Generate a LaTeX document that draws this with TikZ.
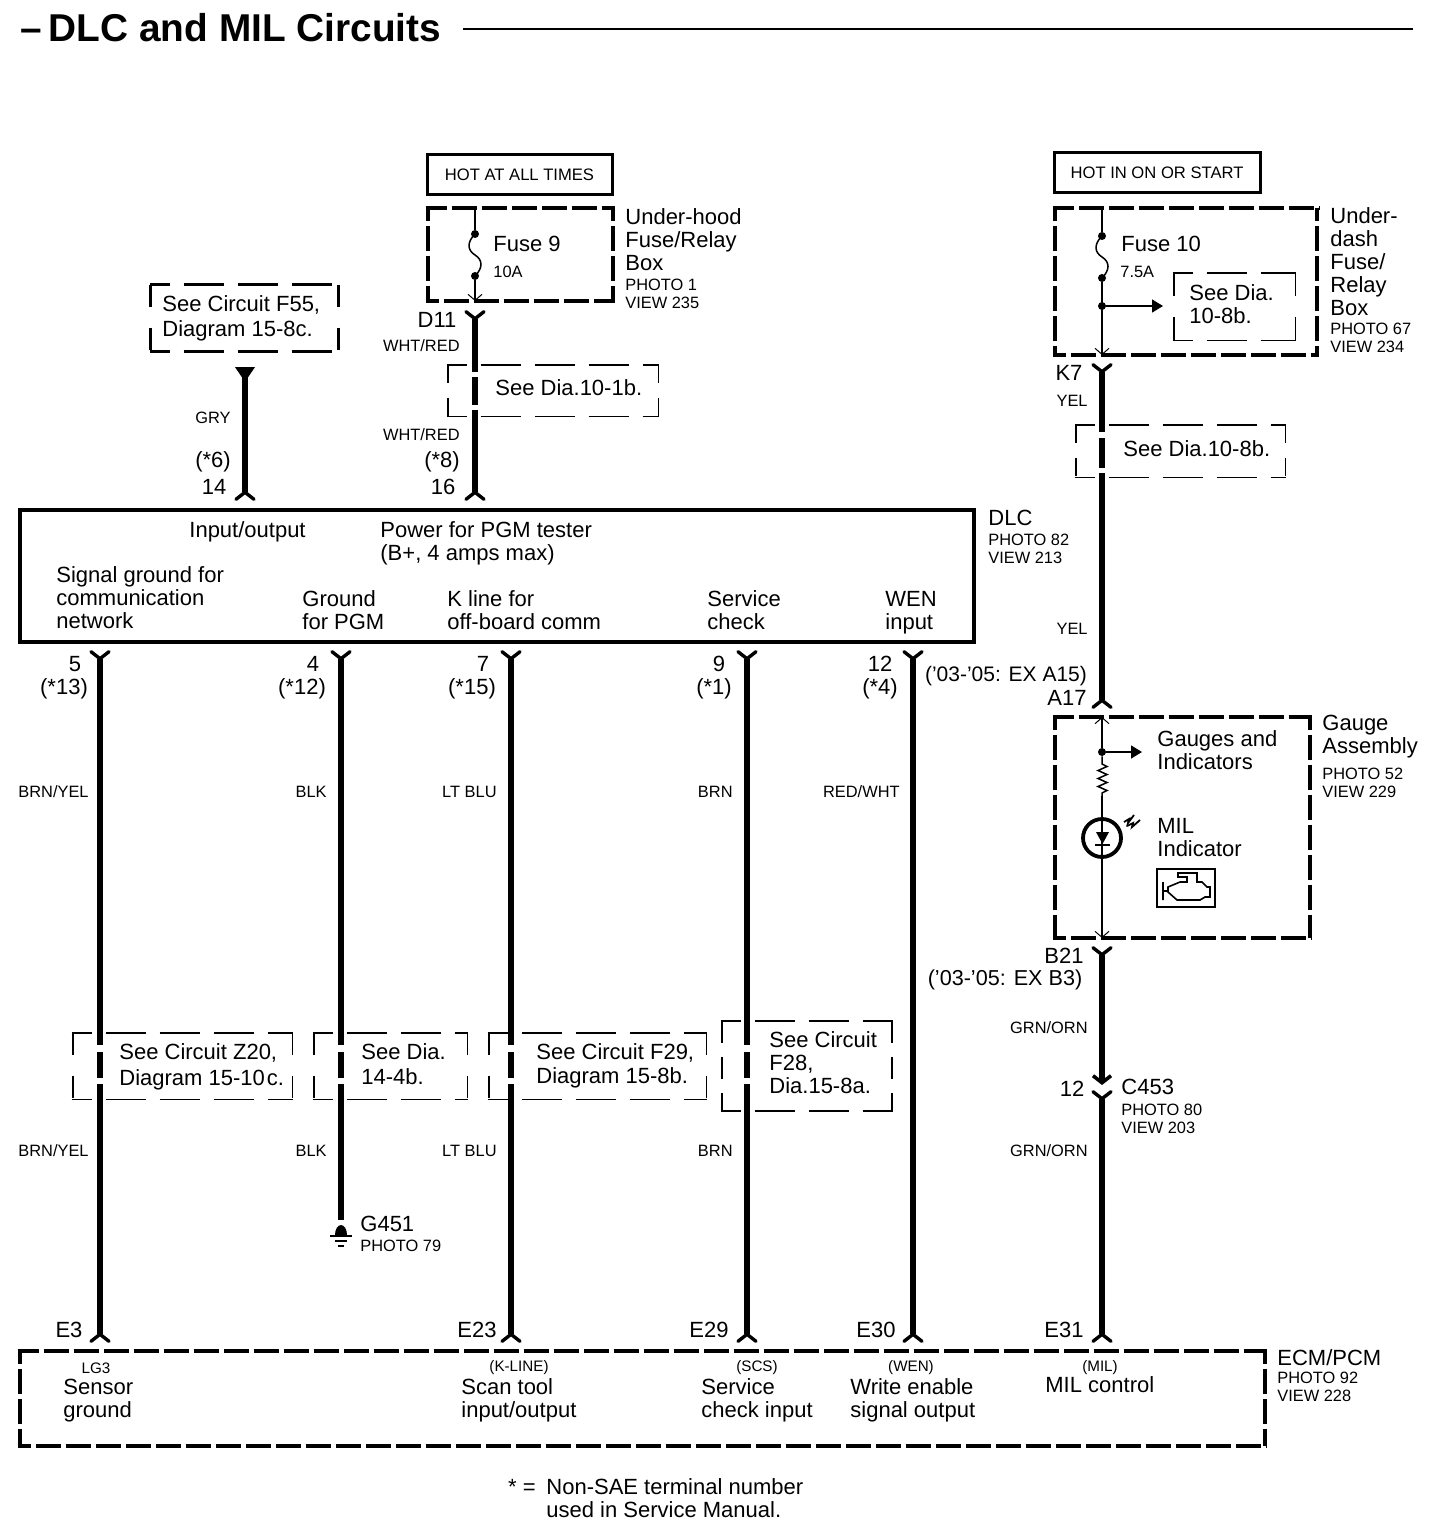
\documentclass[tikz,border=0pt]{standalone}
\usepackage{fontspec}
\setmainfont{Liberation Sans}
\usepackage{tikz}
\usetikzlibrary{arrows.meta}
\tikzset{fork/.tip={Straight Barb[reversed,round,length=3.5pt,width=9pt,line width=1.7pt]}}
\tikzset{chev/.tip={Straight Barb[length=3.5pt,width=9pt,line width=1.8pt]}}
\tikzset{thinv/.tip={Straight Barb[length=3pt,width=7pt,line width=0.5pt]}}
\tikzset{blob/.tip={Triangle[length=5.5pt,width=6.5pt]}}
\tikzstyle{wire}=[line width=3pt]
\tikzstyle{thinwire}=[line width=0.75pt]
\tikzstyle{big}=[font=\fontsize{11}{11.5}\selectfont,align=left,inner sep=0pt,anchor=north west]
\tikzstyle{sml}=[font=\fontsize{8.2}{9}\selectfont,align=left,inner sep=0pt,anchor=north west,yshift=-1pt]
\tikzstyle{mid}=[font=\fontsize{11}{12.5}\selectfont,inner sep=0pt,align=center,yshift=-0.5pt]
\tikzstyle{colr}=[font=\fontsize{8.2}{9}\selectfont,inner sep=0pt,anchor=east,yshift=-0.5pt]
\tikzstyle{hotbox}=[draw,line width=1.5pt,inner sep=0pt,font=\fontsize{8.3}{9}\selectfont]
\tikzstyle{dot}=[circle,fill,inner sep=0pt,minimum size=4pt]
\tikzset{fusewire/.pic={\draw[thinwire] (0,0) .. controls (-8,8) and (-8,16) .. (0,21) .. controls (8,26) and (8,34) .. (0,42);}}
\begin{document}
\begin{tikzpicture}[x=0.5pt,y=-0.5pt]
\useasboundingbox (0,0) rectangle (1440,1530);
% title
\node[inner sep=0pt,anchor=west,font=\fontsize{19.4}{19}\bfseries\selectfont] (title) at (20,28) {--\kern-2pt{} DLC and MIL Circuits};
\coordinate (rule0) at (463,29);
\coordinate (rule1) at (1413,29);
\draw[line width=1.2pt] (rule0) -- (rule1);
% boxes
\node[hotbox,minimum width=92.5pt,minimum height=20pt] (hotall) at (519.5,175) {HOT AT ALL TIMES};
\node[hotbox,minimum width=103pt,minimum height=20pt] (hotrun) at (1157,173) {HOT IN ON OR START};
\node[draw,line width=2pt,inner sep=0pt,minimum width=477pt,minimum height=66pt] (dlc) at (497,576) {};
\foreach \nm/\x/\y/\w/\h in {uhood/520.5/254.5/185/93,udash/1186/281.5/262/147,gauge/1182.5/827.5/255/221,ecm/642.5/1398.5/1245/95} {
	\node[inner sep=0pt,minimum width=\w*0.5pt,minimum height=\h*0.5pt] (\nm) at (\x,\y) {};
	\draw[line width=2pt,shorten <=-1pt,shorten >=-1pt,dash pattern=on 12.5pt off 2.5pt,dash phase=2pt] (\nm.north west) -- (\nm.north east);
	\draw[line width=2pt,shorten <=-1pt,shorten >=-1pt,dash pattern=on 12.5pt off 2.5pt,dash phase=6pt] (\nm.south west) -- (\nm.south east);
	\draw[line width=2pt,dash pattern=on 12.5pt off 2.5pt,dash phase=6pt] (\nm.north west) -- (\nm.south west);
	\draw[line width=2pt,dash pattern=on 12.5pt off 2.5pt,dash phase=6pt] (\nm.north east) -- (\nm.south east);
}
\foreach \nm/\x/\y/\w/\h/\lw/\von/\voff in {sF55/244.5/318/187/66/1.2/11/10.5,s101/553/390.5/210/51/0.9/9/7.5,s108/1180.5/451/209/52/0.9/9/7.5,s108i/1234.5/306.5/121/67/0.9/11.5/10.5,sZ20/182.5/1066/219/66/0.9/11/10.5,s144/390.5/1066/153/66/0.9/11/10.5,sF29/597.5/1066/217/66/0.9/11/10.5,sF28/807/1066/170/90/1/11/7} {
	\node[inner sep=0pt,minimum width=\w*0.5pt,minimum height=\h*0.5pt] (\nm) at (\x,\y) {};
	\draw[line width=\lw pt,shorten <=-0.5pt,shorten >=-0.5pt,dash pattern=on 20pt off 7pt,dash phase=10pt] (\nm.north west) -- (\nm.north east);
	\draw[line width=\lw pt,shorten <=-0.5pt,shorten >=-0.5pt,dash pattern=on 20pt off 7pt,dash phase=10pt] (\nm.south west) -- (\nm.south east);
	\draw[line width=\lw pt,dash pattern=on \von pt off \voff pt] (\nm.north west) -- (\nm.south west);
	\draw[line width=\lw pt,dash pattern=on \von pt off \voff pt] (\nm.north east) -- (\nm.south east);
}
% lower harness
\foreach \nm/\x in {sig/100,pgm/341,kln/511,scs/747} {
	\coordinate (\nm0) at (\x,650);
	\coordinate (\nm1) at (\x,1045);
	\coordinate (\nm2) at (\x,1052);
	\coordinate (\nm3) at (\x,1078);
	\coordinate (\nm4) at (\x,1084);
	\coordinate (\nm5) at (\x,1343);
	\draw[wire,fork-] (\nm0) -- (\nm1);
	\draw[wire] (\nm2) -- (\nm3);
}
\foreach \nm in {sig,kln,scs} {
	\draw[wire,-fork] (\nm4) -- (\nm5);
}
\coordinate (wen0) at (913,650);
\coordinate (wen1) at (913,1343);
\draw[wire,fork-fork] (wen0) -- (wen1);
\coordinate (gnd) at (341,1220);
\draw[wire] (pgm4) -- (gnd);
\fill (335,1235) arc[start angle=180,end angle=360,x radius=6,y radius=10] -- cycle;
\draw[line width=1pt] (330,1236) -- (352,1236);
\draw[line width=1pt] (335,1241) -- (347,1241);
\draw[line width=1pt] (338,1246) -- (344,1246);
% upper harness
\coordinate (gry0) at (245,367);
\coordinate (gry1) at (245,501);
\draw[wire,{Triangle[reversed,length=7.5pt,width=9.5pt]}-fork] (gry0) -- (gry1);
\foreach \nm/\y in {pw0/310,pw1/372,pw2/377,pw3/405,pw4/410,pw5/501} {
	\coordinate (\nm) at (475,\y);
}
\draw[wire,fork-] (pw0) -- (pw1);
\draw[wire] (pw2) -- (pw3);
\draw[wire,-fork] (pw4) -- (pw5);
\foreach \nm/\y in {ig0/363,ig1/432,ig2/438,ig3/468,ig4/473,ig5/709,ig6/946,ig7/1085,ig8/1090,ig9/1343} {
	\coordinate (\nm) at (1102,\y);
}
\draw[wire,fork-] (ig0) -- (ig1);
\draw[wire] (ig2) -- (ig3);
\draw[wire,-fork] (ig4) -- (ig5);
\draw[wire,fork-chev] (ig6) -- (ig7);
\draw[wire,fork-fork] (ig8) -- (ig9);
% fuse 9
\coordinate (f9top) at (475,208);
\coordinate (f9end) at (475,301);
\node[dot] (f9a) at (475,234) {};
\node[dot] (f9b) at (475,276) {};
\draw[thinwire] (f9top) -- (f9a);
\draw[thinwire,-thinv] (f9b) -- (f9end);
\path (f9a.center) pic {fusewire};
% fuse 10
\coordinate (f10top) at (1102,208);
\coordinate (f10end) at (1102,355);
\coordinate (f10arr) at (1163,306);
\node[dot] (f10a) at (1102,236) {};
\node[dot] (f10b) at (1102,278) {};
\node[dot] (f10c) at (1102,306) {};
\draw[thinwire] (f10top) -- (f10a);
\draw[thinwire,-thinv] (f10b) -- (f10end);
\draw[thinwire,-blob] (f10c) -- (f10arr);
\path (f10a.center) pic {fusewire};
% gauge assembly
\coordinate (g0) at (1102,717);
\coordinate (g1) at (1102,764);
\coordinate (g2) at (1102,796);
\coordinate (g3) at (1102,938);
\coordinate (garr) at (1142,752);
\node[dot] (gd) at (1102,752) {};
\node[circle,draw,line width=1.9pt,inner sep=0pt,minimum size=19pt] (lamp) at (1102,838) {};
\draw[thinwire,thinv-] (g0) -- (gd);
\draw[thinwire,-blob] (gd) -- (garr);
\draw[thinwire] (gd) -- (g1) -- ++(5,2.5) -- ++(-9,4) -- ++(9,4) -- ++(-9,4) -- ++(9,4) -- ++(-9,4) -- ++(9,4) -- ++(-5,2.5) -- (g2);
\draw[thinwire,-thinv] (g2) -- (g3);
\fill (1096,832) -- (1109,832) -- (1102.5,844) -- cycle;
\draw[line width=0.9pt] (1095,845) -- (1110,845);
\draw[line width=0.9pt] (1124,822) -- (1129,819) -- (1128,823) -- (1134,815);
\draw[line width=0.9pt] (1127,826) -- (1133,823) -- (1132,827) -- (1140,820);
\node[draw,line width=0.9pt,inner sep=0pt,minimum width=29pt,minimum height=19pt] (enginebox) at (1186,888) {};
\draw[line width=0.8pt] (1163,882) -- (1163,900) (1163,891) -- (1168,891) (1168,887) -- (1180,882) -- (1187,882) -- (1187,877) -- (1178,877) -- (1178,873) -- (1197,873) -- (1197,882) -- (1202,882) -- (1207,887) -- (1210,887) -- (1210,897) -- (1205,897) -- (1200,900) -- (1177,900) -- (1168,892) -- cycle;
% texts
\foreach \x/\y/\t [count=\i] in {625/208/{Under-hood\\Fuse/Relay\\Box},1330/207/{Under-\\dash\\Fuse/\\Relay\\Box},493/236/{Fuse 9},1121/236/{Fuse 10},1189/284/{See Dia.\\10-8b.},495/379/{See Dia.10-1b.},1123/440/{See Dia.10-8b.},162/295/{See Circuit F55,\\[1pt]Diagram 15-8c.},189/521/{Input/output},380/521/{Power for PGM tester\\(B+, 4 amps max)},56/566/{Signal ground for\\communication\\network},302/590/{Ground\\for PGM},447/590/{K line for\\off-board comm},707/590/{Service\\check},885/591/{WEN\\input},988/510/{DLC},1322/715/{Gauge\\Assembly},1157/730/{Gauges and\\Indicators},1157/818/{MIL\\Indicator},119/1043/{See Circuit Z20,\\[1.5pt]Diagram 15-10\kern-2pt{} c.},361/1043/{See Dia.\\[1pt]14-4b.},536/1043/{See Circuit F29,\\[0.5pt]Diagram 15-8b.},769/1031/{See Circuit\\F28,\\Dia.15-8a.},1121/1079/{C453},360/1216/{G451},1277/1349/{ECM/PCM},63/1379/{Sensor\\ground},461/1378/{Scan tool\\input/output},701/1378/{Service\\check input},850/1378/{Write enable\\signal output},1045/1376/{MIL control},546/1478/{Non-SAE terminal number\\used in Service Manual.}} {
	\node[big] (txt\i) at (\x,\y) {\t};
}
\foreach \x/\y/\t [count=\i] in {625/277/{PHOTO 1\\VIEW 235},493/264/{10A},1120/264/{7.5A},1330/321/{PHOTO 67\\VIEW 234},988/532/{PHOTO 82\\VIEW 213},1322/766/{PHOTO 52\\VIEW 229},1121/1102/{PHOTO 80\\VIEW 203},360/1238/{PHOTO 79},1277/1370/{PHOTO 92\\VIEW 228}} {
	\node[sml] (note\i) at (\x,\y) {\t};
}
\foreach \x/\y/\t [count=\i] in {75/663/{5},64/688/{(*13)},313/663/{4},302/688/{(*12)},483/663/{7},472/688/{(*15)},719/663/{9},714/688/{(*1)},880/663/{12},880/688/{(*4)},213/461/{(*6)},214/486/{14},442/461/{(*8)},443/486/{16},437/319/{D11},1069/372/{K7},1006/675/{\fontsize{10.5}{12}\selectfont('03-'05: EX A15)},1067/697/{A17},1064/955/{B21},1005/979/{\fontsize{10.8}{12}\selectfont('03-'05: EX B3)},1072/1088/{12},69/1329/{E3},477/1329/{E23},709/1329/{E29},876/1329/{E30},1064/1329/{E31},522/1486/{* =}} {
	\node[mid] (pin\i) at (\x,\y) {\t};
}
\foreach \x/\y/\t [count=\i] in {231/417/{GRY},460/345/{WHT/RED},460/434/{WHT/RED},1088/400/{YEL},1088/628/{YEL},89/791/{BRN/YEL},327/791/{BLK},497/791/{LT BLU},733/791/{BRN},900/791/{RED/WHT},89/1150/{BRN/YEL},327/1150/{BLK},497/1150/{LT BLU},733/1150/{BRN},1088/1027/{GRN/ORN},1088/1150/{GRN/ORN}} {
	\node[colr] (col\i) at (\x,\y) {\t};
}
\foreach \x/\t [count=\i] in {96/LG3,519/(K-LINE),757/(SCS),911/(WEN),1100/(MIL)} {
	\node[font=\fontsize{7.6}{9}\selectfont,inner sep=0pt] (pcm\i) at (\x,1368) {\t};
}
\end{tikzpicture}
\end{document}
